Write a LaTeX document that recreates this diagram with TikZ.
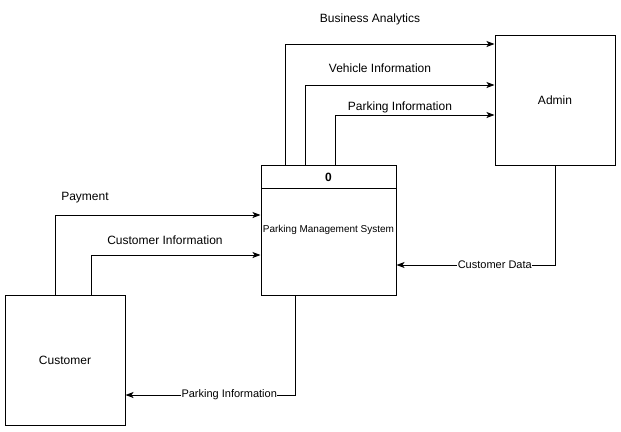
\documentclass[tikz,border=0pt]{standalone}
\usepackage{fontspec}
\setmainfont{Liberation Sans}
\usetikzlibrary{arrows.meta}
\begin{document}
\begin{tikzpicture}[x=1pt,y=-1pt,
  ent/.style={draw,line width=1pt,minimum width=120pt,minimum height=130pt,inner sep=0pt,font=\fontsize{12}{14}\selectfont},
  flow/.style={draw,line width=1pt,-{Stealth[length=8pt,width=6pt,inset=2pt]}},
  lab/.style={font=\fontsize{12}{14}\selectfont,inner sep=1pt},
  elab/.style={font=\fontsize{11}{13}\selectfont,fill=white,inner sep=0.5pt}]
\useasboundingbox (0,0) rectangle (621,431);
\node[ent] (cust) at (65,360) {Customer};
\node[ent] (admin) at (555,100) {Admin};
\node[draw,line width=1pt,minimum width=135pt,minimum height=130pt,inner sep=0pt] (pms) at (328.5,230) {};
\draw[line width=1pt] (261,188) -- (396,188);
\node[font=\bfseries\fontsize{12}{14}\selectfont] (zero) at (328.5,177) {0};
\node[font=\fontsize{10}{12}\selectfont] (pmsl) at (328.5,230) {Parking Management System};
% customer to PMS
\draw[flow] (cust.north -| 55,0) |- (pms.west |- 0,215);
\draw[flow] (cust.north -| 91,0) |- (pms.west |- 0,255);
\node[lab] (l1) at (85,198) {Payment};
\node[lab] (l2) at (165,240) {Customer Information};
% PMS to admin
\draw[flow] (pms.north -| 285,0) |- (admin.west |- 0,44);
\draw[flow] (pms.north -| 305,0) |- (admin.west |- 0,85);
\draw[flow] (pms.north -| 335,0) |- (admin.west |- 0,115);
\node[lab] (l3) at (370,19.5) {Business Analytics};
\node[lab] (l4) at (380,68) {Vehicle Information};
\node[lab] (l5) at (400,107) {Parking Information};
% admin to PMS
\draw[flow] (admin.south) |- (pms.east |- 0,265) node[pos=0.69,elab] (l6) {Customer Data};
% PMS to customer
\draw[flow] (pms.south -| 295,0) |- (cust.east |- 0,395) node[pos=0.694,elab] (l7) {Parking Information};
\end{tikzpicture}
\end{document}
